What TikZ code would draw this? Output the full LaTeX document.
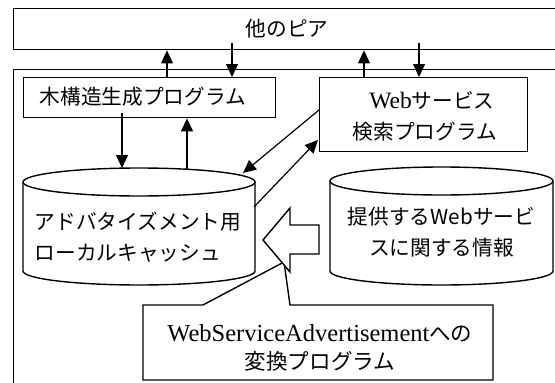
\documentclass[tikz,border=0pt]{standalone}
\usepackage{fontspec}
\setmainfont{Liberation Serif}
\newfontfamily\cjk[Scale=0.88]{Noto Sans CJK JP}
\usetikzlibrary{arrows.meta}
\begin{document}
\begin{tikzpicture}[x=1pt,y=-1pt,
  boxline/.style={draw=black,line width=1.4pt},
  rectbox/.style={boxline,inner sep=0pt,anchor=north west},
  arr/.style={draw=black,line width=1.2pt,-{Triangle[length=13pt,width=12pt]}},
  txt/.style={font=\fontsize{23.5}{31}\selectfont,align=center,inner sep=0pt}]
\useasboundingbox (0,0) rectangle (555,383);
\clip (0,0) rectangle (555,383);
% boxes
\node[rectbox,minimum width=550pt,minimum height=41pt] (peer) at (13,8) {};
\node[txt] (peertxt) at (287,29) {\cjk 他のピア};
\node[rectbox,minimum width=560pt,minimum height=330pt] (outer) at (13,69) {};
\node[rectbox,minimum width=252pt,minimum height=40pt] (tree) at (23,77) {};
\node[txt] (treetxt) at (143,97) {\cjk 木構造生成プログラム};
\node[rectbox,minimum width=208pt,minimum height=74pt] (web) at (319,77) {};
\node[txt] (webtxt) at (425,116) {\hspace*{14pt}Web{\cjk サービス}\\{\cjk 検索プログラム}};
% cylinder 1
\draw[boxline,fill=white] (23,182) -- (23,271) arc[start angle=180,end angle=360,x radius=116pt,y radius=14pt] -- (255,182);
\draw[boxline] (139,182) ellipse [x radius=116pt,y radius=14pt];
\node[txt,align=left] (cache) at (138,237) {\cjk アドバタイズメント用\\\cjk ローカルキャッシュ};
% cylinder 2
\draw[boxline,fill=white] (330,181) -- (330,271) arc[start angle=180,end angle=360,x radius=111.5pt,y radius=14pt] -- (553,181);
\draw[boxline] (441.5,181) ellipse [x radius=111.5pt,y radius=14pt];
\node[txt] (info) at (441.5,232) {\cjk 提供するWebサービ\\\cjk スに関する情報};
% callout converter
\draw[boxline,fill=white] (143,305) -- (203,305) -- (284,262) -- (290,305) -- (493,305) -- (493,380) -- (143,380) -- cycle;
\node[txt,font=\fontsize{24.5}{28}\selectfont] (conv) at (320,348) {WebServiceAdvertisement{\cjk への}\\{\cjk 変換プログラム}};
% block arrow
\draw[boxline,fill=white] (319,225) -- (290,225) -- (290,208) -- (263,240) -- (290,272) -- (290,254) -- (319,254) -- cycle;
% coordinates
\coordinate (u1) at (167,0);
\coordinate (d1) at (232,43);
\coordinate (u2) at (364,0);
\coordinate (d2) at (419,43);
\coordinate (t1) at (122,113);
\coordinate (c1top) at (122,168);
\coordinate (c1b) at (187,170);
\coordinate (wl) at (319,110);
\coordinate (c1tr) at (243,173);
\coordinate (c1r) at (254,207);
\coordinate (wl2) at (318,140);
% arrows
\draw[arr] (tree.north -| u1) -- (peer.south -| u1);
\draw[arr] (d1) -- (d1 |- tree.north);
\draw[arr] (web.north -| u2) -- (peer.south -| u2);
\draw[arr] (d2) -- (d2 |- web.north);
\draw[arr] (t1) -- (c1top);
\draw[arr] (c1b) -- (c1b |- tree.south);
\draw[arr] (wl) -- (c1tr);
\draw[arr] (c1r) -- (wl2);
\end{tikzpicture}
\end{document}
